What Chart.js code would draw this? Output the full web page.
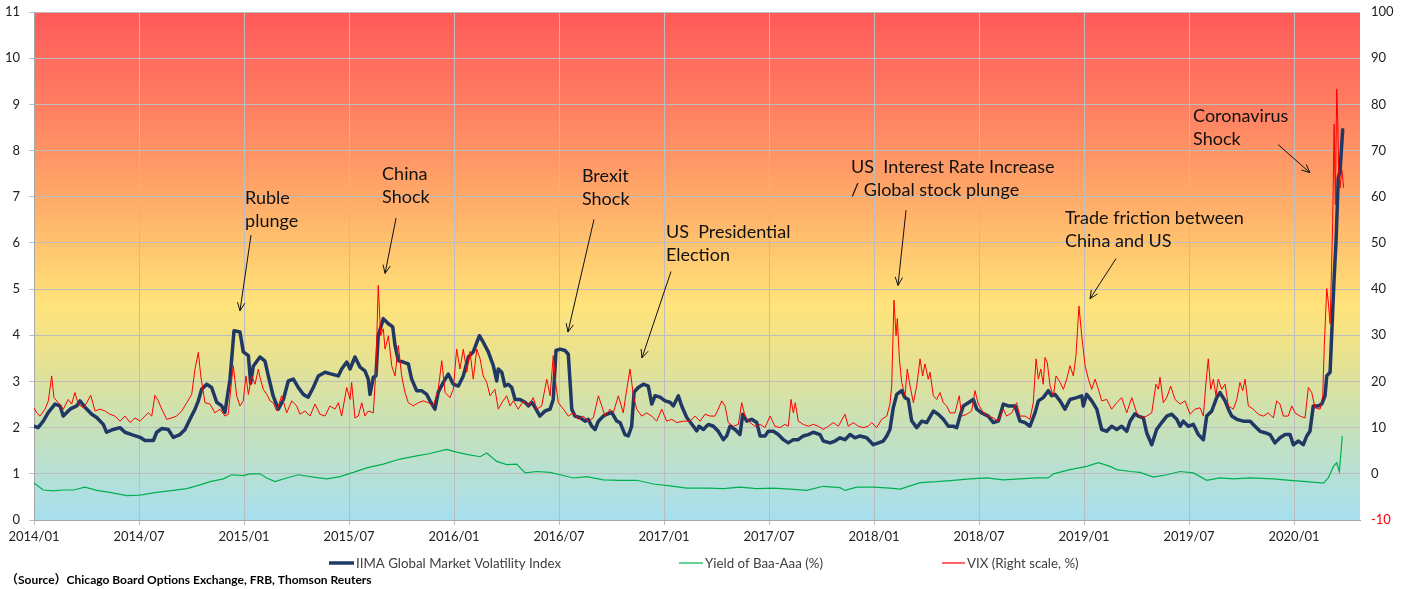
<!DOCTYPE html>
<html>
<head>
<meta charset="utf-8">
<script src="https://cdn.jsdelivr.net/npm/chart.js@4.4.1/dist/chart.umd.min.js"></script>
<style>
html,body{margin:0;padding:0;background:#fff;}
#wrap{width:1402px;height:589px;position:relative;}
</style>
</head>
<body>
<div id="wrap"><canvas id="c" width="1402" height="589"></canvas></div>
<script>
// ---- tick labels (x axis: months since 2014/01) ----
const tickMonths = [0,6,12,18,24,30,36,42,48,54,60,66,72];
const tickLabels = ["2014/01","2014/07","2015/01","2015/07","2016/01","2016/07","2017/01","2017/07","2018/01","2018/07","2019/01","2019/07","2020/01"];

// ---- series names ----
const seriesNames = ["IIMA Global Market Volatility Index","Yield of Baa-Aaa (%)","VIX (Right scale, %)"];

// ---- IIMA Global Market Volatility Index (left axis) ----
const iimaMonths = [0.00,0.23,0.53,0.82,1.20,1.49,1.67,2.06,2.44,2.63,2.91,3.30,3.58,3.96,4.15,4.53,4.91,5.20,5.58,6.06,6.34,6.82,7.01,7.30,7.67,7.96,8.34,8.63,8.91,9.20,9.39,9.58,9.87,10.15,10.44,10.73,10.91,11.20,11.43,11.77,11.96,12.25,12.38,12.53,12.91,13.20,13.39,13.67,13.96,14.25,14.53,14.82,15.10,15.39,15.67,15.96,16.25,16.63,17.01,17.39,17.58,17.87,18.06,18.34,18.63,18.91,19.10,19.20,19.39,19.54,19.67,19.96,20.25,20.50,20.63,20.82,21.10,21.39,21.58,21.87,22.15,22.44,22.63,22.91,23.10,23.39,23.67,23.96,24.25,24.53,24.82,25.10,25.45,25.67,25.96,26.25,26.44,26.53,26.73,26.91,27.10,27.30,27.49,27.77,28.06,28.25,28.44,28.63,28.91,29.20,29.49,29.67,29.83,30.06,30.34,30.53,30.73,30.91,31.20,31.49,31.67,31.87,32.06,32.25,32.53,32.73,33.01,33.30,33.49,33.77,33.96,34.15,34.29,34.53,34.82,35.10,35.30,35.49,35.77,36.06,36.34,36.53,36.82,37.01,37.30,37.58,37.87,38.00,38.25,38.53,38.82,39.10,39.39,39.58,39.77,40.06,40.34,40.50,40.73,41.01,41.30,41.49,41.77,41.96,42.25,42.53,42.82,43.10,43.39,43.67,43.96,44.25,44.53,44.91,45.10,45.49,45.77,46.06,46.34,46.63,46.91,47.20,47.58,47.96,48.25,48.53,48.73,48.91,49.10,49.30,49.58,49.77,49.96,50.15,50.44,50.73,51.01,51.39,51.67,51.96,52.25,52.53,52.73,52.91,53.10,53.39,53.67,53.87,54.15,54.53,54.82,55.10,55.39,55.67,56.06,56.34,56.63,56.91,57.20,57.39,57.67,57.96,58.15,58.34,58.63,58.91,59.20,59.58,59.87,59.96,60.15,60.44,60.73,61.01,61.30,61.58,61.87,62.15,62.44,62.63,62.91,63.10,63.39,63.58,63.87,64.15,64.44,64.73,65.01,65.30,65.49,65.67,65.96,66.25,66.53,66.82,67.01,67.30,67.58,67.77,68.06,68.25,68.44,68.73,69.10,69.49,69.77,70.06,70.34,70.63,70.91,71.20,71.49,71.77,71.96,72.25,72.53,72.73,72.91,73.10,73.39,73.58,73.77,73.87,74.06,74.15,74.29,74.40,74.53,74.63,74.78];
const iimaValues = [2.03,2.00,2.14,2.33,2.51,2.47,2.25,2.40,2.47,2.58,2.44,2.29,2.22,2.07,1.90,1.96,2.00,1.90,1.85,1.79,1.72,1.72,1.90,1.98,1.96,1.79,1.85,1.96,2.18,2.40,2.58,2.83,2.94,2.87,2.55,2.47,2.33,3.05,4.10,4.07,3.64,3.56,2.96,3.33,3.53,3.44,3.12,2.68,2.40,2.61,3.01,3.05,2.87,2.72,2.66,2.87,3.12,3.20,3.16,3.12,3.27,3.42,3.27,3.53,3.31,3.23,3.05,2.72,3.09,3.12,3.99,4.36,4.25,4.18,3.78,3.45,3.42,3.38,3.05,2.80,2.80,2.72,2.58,2.40,2.77,2.98,3.16,2.94,2.90,3.12,3.53,3.64,3.99,3.85,3.64,3.34,3.01,3.27,3.20,2.90,2.94,2.87,2.61,2.61,2.55,2.47,2.55,2.44,2.25,2.36,2.40,2.61,3.67,3.70,3.67,3.59,2.40,2.25,2.22,2.14,2.18,2.03,1.96,2.14,2.25,2.29,2.33,2.14,2.11,1.85,1.82,2.03,2.77,2.87,2.94,2.90,2.51,2.69,2.66,2.58,2.55,2.47,2.69,2.47,2.22,2.08,1.93,2.03,1.96,2.07,2.03,1.92,1.74,1.82,2.03,1.96,1.85,2.29,2.14,2.18,2.11,1.82,1.82,1.92,1.92,1.85,1.74,1.67,1.74,1.74,1.82,1.85,1.90,1.85,1.71,1.67,1.71,1.78,1.74,1.85,1.78,1.82,1.78,1.63,1.67,1.71,1.82,1.96,2.43,2.72,2.80,2.65,2.61,2.15,2.00,2.14,2.11,2.36,2.29,2.18,2.03,2.03,2.00,2.25,2.47,2.54,2.61,2.40,2.32,2.25,2.11,2.14,2.51,2.47,2.47,2.14,2.11,2.03,2.32,2.58,2.65,2.80,2.69,2.72,2.58,2.40,2.61,2.65,2.69,2.47,2.72,2.58,2.40,1.96,1.92,2.03,1.96,2.03,1.92,2.14,2.30,2.25,2.21,1.89,1.63,1.96,2.11,2.25,2.29,2.18,2.03,2.14,2.03,2.07,1.85,1.74,2.25,2.36,2.65,2.76,2.58,2.40,2.25,2.18,2.14,2.14,2.03,1.92,1.89,1.85,1.67,1.78,1.85,1.85,1.63,1.71,1.63,1.82,1.92,2.47,2.47,2.51,2.69,3.12,3.20,3.99,5.23,6.03,7.41,7.56,8.45];

// ---- Yield spread Baa-Aaa (left axis, %) ----
const spreadMonths = [0.00,0.53,1.10,1.67,2.25,2.91,3.58,4.34,5.30,6.06,7.01,7.96,8.73,9.49,10.06,10.82,11.30,11.96,12.34,12.91,13.30,13.77,14.44,15.10,15.96,16.73,17.49,18.25,19.01,19.96,20.91,21.87,22.63,23.58,24.15,24.73,25.49,25.87,26.44,27.01,27.58,28.06,28.73,29.49,30.06,30.82,31.58,32.53,33.49,34.44,35.39,36.34,37.30,38.06,38.53,39.39,40.34,41.30,42.25,43.20,44.15,45.10,46.06,46.34,47.01,47.96,48.91,49.49,50.06,50.63,51.58,52.53,53.49,54.44,55.39,56.34,57.30,57.96,58.25,59.20,60.15,60.82,61.49,61.87,62.63,63.20,63.96,64.73,65.49,66.25,67.01,67.77,68.53,69.49,70.82,71.77,72.73,73.68,73.96,74.25,74.44,74.59,74.76];
const spreadValues = [0.80,0.65,0.63,0.65,0.65,0.71,0.64,0.60,0.53,0.54,0.60,0.64,0.68,0.76,0.83,0.89,0.98,0.96,1.00,1.00,0.91,0.83,0.91,0.98,0.93,0.89,0.94,1.03,1.13,1.21,1.32,1.39,1.44,1.53,1.47,1.42,1.37,1.45,1.27,1.20,1.21,1.02,1.05,1.03,0.98,0.91,0.94,0.87,0.86,0.86,0.78,0.74,0.69,0.69,0.69,0.68,0.71,0.68,0.69,0.67,0.64,0.73,0.70,0.64,0.71,0.71,0.69,0.67,0.74,0.81,0.83,0.86,0.89,0.91,0.87,0.89,0.91,0.91,1.00,1.09,1.16,1.24,1.16,1.09,1.05,1.03,0.93,0.98,1.05,1.02,0.86,0.91,0.89,0.91,0.89,0.86,0.83,0.80,0.91,1.16,1.24,1.05,1.82];

// ---- VIX (right axis, %) ----
const vixMonths = [0.00,0.15,0.34,0.63,0.82,1.01,1.14,1.39,1.67,1.96,2.15,2.34,2.53,2.82,3.01,3.24,3.49,3.77,4.06,4.34,4.63,4.91,5.20,5.49,5.77,6.06,6.34,6.53,6.73,6.91,7.10,7.30,7.58,7.87,8.15,8.44,8.73,9.01,9.20,9.39,9.53,9.77,10.06,10.34,10.63,10.91,11.10,11.30,11.39,11.58,11.77,11.96,12.11,12.25,12.44,12.63,12.82,12.91,13.10,13.30,13.49,13.67,13.87,14.15,14.44,14.73,15.01,15.20,15.49,15.77,16.06,16.34,16.63,16.91,17.20,17.39,17.58,17.87,18.06,18.15,18.34,18.53,18.73,18.91,19.10,19.39,19.54,19.67,19.81,19.96,20.06,20.25,20.44,20.63,20.82,21.01,21.20,21.39,21.67,21.96,22.25,22.53,22.82,23.10,23.30,23.49,23.77,23.96,24.15,24.34,24.53,24.73,24.91,25.10,25.30,25.49,25.67,25.87,26.06,26.34,26.53,26.73,27.01,27.20,27.39,27.67,27.96,28.25,28.53,28.73,29.01,29.30,29.49,29.67,29.83,29.96,30.25,30.53,30.82,31.10,31.39,31.67,31.96,32.25,32.44,32.63,32.91,33.10,33.39,33.67,33.87,34.06,34.25,34.44,34.73,35.01,35.30,35.58,35.87,36.15,36.44,36.73,37.10,37.49,37.77,38.06,38.34,38.63,38.91,39.10,39.30,39.49,39.67,39.96,40.25,40.44,40.63,40.91,41.20,41.49,41.77,42.06,42.34,42.63,42.91,43.10,43.26,43.39,43.50,43.67,43.96,44.25,44.53,44.82,45.10,45.39,45.67,45.96,46.34,46.53,46.82,47.10,47.39,47.67,47.87,48.15,48.44,48.73,48.91,49.01,49.14,49.26,49.33,49.45,49.58,49.77,49.90,50.06,50.25,50.44,50.63,50.78,50.91,51.10,51.20,51.39,51.58,51.77,51.96,52.15,52.34,52.63,52.87,53.01,53.30,53.58,53.77,53.96,54.25,54.53,54.82,55.10,55.39,55.58,55.87,56.15,56.34,56.63,56.91,57.10,57.26,57.39,57.53,57.67,57.77,57.90,58.06,58.25,58.40,58.63,58.82,59.01,59.20,59.39,59.54,59.71,59.87,60.06,60.25,60.44,60.63,60.82,61.01,61.30,61.58,61.87,62.15,62.44,62.73,63.01,63.30,63.58,63.87,64.11,64.25,64.34,64.53,64.73,64.95,65.20,65.49,65.77,66.06,66.34,66.63,66.82,66.97,67.10,67.24,67.39,67.54,67.67,67.87,68.06,68.25,68.53,68.73,68.91,69.07,69.20,69.39,69.67,69.96,70.25,70.53,70.82,71.01,71.20,71.39,71.67,71.87,72.06,72.34,72.63,72.82,73.01,73.20,73.49,73.64,73.73,73.87,73.96,74.06,74.14,74.21,74.29,74.36,74.44,74.50,74.55,74.63,74.73,74.84];
const vixValues = [14.3,13.2,12.5,14.0,15.8,21.2,16.5,15.4,14.0,16.1,15.1,17.6,15.1,14.3,15.4,17.0,13.6,14.0,13.6,12.9,12.5,11.4,12.5,11.1,12.1,11.4,12.5,13.2,12.5,17.0,15.8,14.0,11.8,12.1,12.5,13.6,15.4,17.2,22.7,26.3,21.2,15.4,15.1,13.2,14.0,12.5,12.9,20.5,23.4,16.9,14.7,15.8,21.2,17.2,21.2,19.4,22.7,20.9,18.3,17.2,15.8,15.4,13.6,16.9,13.2,15.8,14.7,12.9,13.6,12.5,15.1,12.9,12.5,14.7,14.0,15.4,12.5,18.7,16.1,19.8,12.1,12.5,15.4,12.5,13.6,13.2,22.7,40.8,29.9,31.4,27.0,29.9,23.4,21.2,27.8,21.2,17.6,15.4,14.7,15.4,15.8,15.4,14.7,18.3,24.5,17.6,16.5,18.3,27.0,22.7,27.0,22.0,26.5,20.5,27.0,24.9,21.2,19.8,16.9,18.3,14.0,15.4,16.9,14.7,15.8,14.0,15.8,14.7,16.5,14.0,14.7,20.5,16.9,25.6,19.0,15.4,14.0,12.5,13.2,11.8,12.5,11.4,12.1,16.9,14.7,12.5,14.0,13.2,16.9,13.2,18.3,22.7,16.9,14.0,12.5,13.2,12.5,11.4,14.0,11.4,11.8,11.1,11.4,11.4,12.5,11.4,12.9,12.5,12.5,14.0,15.8,14.7,11.1,10.3,10.7,15.4,12.5,11.1,10.3,10.7,10.0,12.5,10.3,10.0,10.7,10.3,16.1,13.2,15.4,11.4,10.7,10.3,10.7,10.3,9.6,10.3,11.1,10.3,12.9,10.3,11.1,10.3,10.0,10.3,11.1,10.0,11.8,12.5,15.1,19.0,37.6,29.9,33.6,24.9,19.8,16.9,22.7,19.0,15.4,19.0,24.9,21.2,23.8,20.5,22.0,16.9,16.1,17.6,15.4,14.7,13.2,13.2,16.9,12.5,12.9,13.6,18.0,15.1,13.2,12.5,12.1,11.4,14.0,12.5,13.2,15.4,12.5,12.5,11.8,15.4,24.9,20.5,22.7,19.4,25.2,24.1,19.0,16.9,21.2,19.8,18.3,20.5,23.4,21.2,25.6,36.3,29.9,23.4,20.5,18.3,20.5,18.3,15.8,16.1,14.0,15.4,16.5,13.2,16.5,13.2,12.1,12.5,13.2,19.4,18.3,20.9,15.4,16.5,19.0,16.1,15.1,15.8,12.9,14.0,14.3,12.5,19.8,24.9,18.3,20.5,16.9,20.5,18.3,19.4,14.7,14.0,16.1,19.8,18.0,20.5,14.7,14.0,12.9,12.5,13.2,12.1,15.8,15.1,12.5,12.5,14.7,13.2,12.5,12.1,18.7,17.6,14.3,14.0,16.9,27.8,40.1,37.2,32.5,44.0,54.6,75.7,58.3,83.3,76.4,65.5,61.9,65.9,61.9];

const toPts = (xs, ys) => xs.map((x, i) => ({x: x, y: ys[i]}));

// ---- annotations (text lines, text anchor, arrow start/end in data units) ----
const notes = [
  {lines:["Ruble","plunge"], at:[12.06,6.97], from:[12.40,6.17], to:[11.77,4.53]},
  {lines:["China","Shock"], at:[19.89,7.49], from:[20.69,6.54], to:[20.06,5.34]},
  {lines:["Brexit","Shock"], at:[31.31,7.45], from:[32.00,6.51], to:[30.51,4.07]},
  {lines:["US  Presidential","Election"], at:[36.11,6.23], from:[36.40,5.38], to:[34.74,3.51]},
  {lines:["US  Interest Rate Increase","/ Global stock plunge"], at:[46.69,7.63], from:[49.83,6.71], to:[49.37,5.08]},
  {lines:["Trade friction between","China and US"], at:[58.91,6.54], from:[61.83,5.66], to:[60.34,4.79]},
  {lines:["Coronavirus","Shock"], at:[66.23,8.74], from:[71.09,8.13], to:[72.91,7.52]}
];

const FONT = "Lato, 'Liberation Sans', sans-serif";
const colors = ["#1F3864", "#00B050", "#FF0000"];

const bgPlugin = {
  id: 'bg',
  beforeDraw(chart) {
    const {ctx, chartArea: a} = chart;
    const g = ctx.createLinearGradient(0, a.top, 0, a.bottom);
    g.addColorStop(0.00, '#FF5A5A');
    g.addColorStop(0.18, '#FF7D62');
    g.addColorStop(0.36, '#FFA868');
    g.addColorStop(0.50, '#FFCF72');
    g.addColorStop(0.58, '#FFE37B');
    g.addColorStop(0.68, '#E8E290');
    g.addColorStop(0.82, '#C6E1BA');
    g.addColorStop(1.00, '#A7DFF0');
    ctx.save();
    ctx.fillStyle = g;
    ctx.fillRect(a.left, a.top, a.right - a.left, a.bottom - a.top);
    ctx.restore();
  }
};

const notePlugin = {
  id: 'notes',
  afterDatasetsDraw(chart) {
    const {ctx, scales} = chart;
    const X = scales.x, Y = scales.y;
    ctx.save();
    ctx.fillStyle = '#111';
    ctx.strokeStyle = '#111';
    ctx.lineWidth = 1;
    ctx.font = "18px " + FONT;
    ctx.textAlign = 'left';
    ctx.textBaseline = 'middle';
    notes.forEach(n => {
      const tx = X.getPixelForValue(n.at[0]);
      const ty = Y.getPixelForValue(n.at[1]);
      n.lines.forEach((l, i) => ctx.fillText(l, tx, ty + i * 23));
      const x1 = X.getPixelForValue(n.from[0]), y1 = Y.getPixelForValue(n.from[1]);
      const x2 = X.getPixelForValue(n.to[0]), y2 = Y.getPixelForValue(n.to[1]);
      ctx.beginPath(); ctx.moveTo(x1, y1); ctx.lineTo(x2, y2); ctx.stroke();
      const ang = Math.atan2(y2 - y1, x2 - x1), L = 9, w = 0.42;
      ctx.beginPath();
      ctx.moveTo(x2 - L * Math.cos(ang - w), y2 - L * Math.sin(ang - w));
      ctx.lineTo(x2, y2);
      ctx.lineTo(x2 - L * Math.cos(ang + w), y2 - L * Math.sin(ang + w));
      ctx.stroke();
    });
    ctx.restore();
  }
};

const legendPlugin = {
  id: 'legendCustom',
  afterDraw(chart) {
    const {ctx} = chart;
    ctx.save();
    const items = [
      {x0: 329, x1: 354, w: 3.5},
      {x0: 679, x1: 703, w: 1.2},
      {x0: 942, x1: 965, w: 1.2}
    ];
    const y = 563;
    ctx.font = "13.3px " + FONT;
    ctx.textBaseline = 'middle';
    ctx.textAlign = 'left';
    items.forEach((it, i) => {
      ctx.strokeStyle = colors[i];
      ctx.lineWidth = it.w;
      ctx.beginPath(); ctx.moveTo(it.x0, y); ctx.lineTo(it.x1, y); ctx.stroke();
      ctx.fillStyle = '#404040';
      ctx.fillText(seriesNames[i], it.x1 + 2, y + 1);
    });
    ctx.fillStyle = '#000';
    ctx.font = "bold 12px " + FONT + ", 'Noto Sans CJK JP'";
    ctx.fillText("（Source）Chicago Board Options Exchange, FRB, Thomson Reuters", 6, 580);
    ctx.restore();
  }
};

Chart.defaults.font.family = FONT;

new Chart(document.getElementById('c'), {
  type: 'line',
  data: {
    datasets: [
      {label: seriesNames[2], data: toPts(vixMonths, vixValues), yAxisID: 'y2', borderColor: colors[2], borderWidth: 1, pointRadius: 0, tension: 0, order: 0},
      {label: seriesNames[1], data: toPts(spreadMonths, spreadValues), yAxisID: 'y', borderColor: colors[1], borderWidth: 1.2, pointRadius: 0, tension: 0, order: 1},
      {label: seriesNames[0], data: toPts(iimaMonths, iimaValues), yAxisID: 'y', borderColor: colors[0], borderWidth: 3.5, pointRadius: 0, tension: 0, order: 2, borderJoinStyle: 'round', borderCapStyle: 'round'}
    ]
  },
  options: {
    responsive: false,
    animation: false,
    layout: {padding: {top: 12, bottom: 39, left: 0, right: 0}},
    plugins: {legend: {display: false}, tooltip: {enabled: false}, title: {display: false}},
    scales: {
      x: {
        type: 'linear', min: 0, max: 75.77,
        afterBuildTicks: s => { s.ticks = tickMonths.map(v => ({value: v})); },
        afterFit: s => { s.height = 30; s.paddingLeft = 0; s.paddingRight = 0; },
        ticks: {
          callback: v => tickLabels[tickMonths.indexOf(v)] || '',
          maxRotation: 0, autoSkip: false, color: '#222', font: {size: 13}, padding: 4
        },
        grid: {color: '#BDBDBD', lineWidth: 1, tickLength: 5},
        border: {color: '#A6A6A6'}
      },
      y: {
        position: 'left', min: 0, max: 11,
        afterFit: s => { s.width = 34; s.paddingTop = 0; s.paddingBottom = 0; },
        ticks: {stepSize: 1, color: '#222', font: {size: 13}, padding: 9},
        grid: {color: '#BDBDBD', lineWidth: 1, tickLength: 5},
        border: {color: '#A6A6A6'}
      },
      y2: {
        position: 'right', min: -10, max: 100,
        afterFit: s => { s.width = 42; s.paddingTop = 0; s.paddingBottom = 0; },
        ticks: {stepSize: 10, color: c => (c.tick && c.tick.value < 0 ? '#FF0000' : '#222'), font: {size: 13}, padding: 11},
        grid: {display: false, drawOnChartArea: false, drawTicks: false, tickLength: 0},
        border: {display: false}
      }
    }
  },
  plugins: [bgPlugin, notePlugin, legendPlugin]
});
</script>
</body>
</html>
